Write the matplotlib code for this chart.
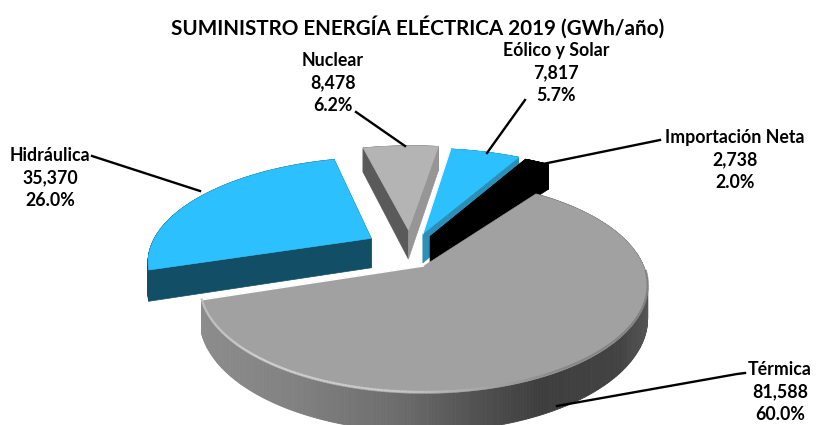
import numpy as np
import matplotlib
matplotlib.use("Agg")
import matplotlib.pyplot as plt

plt.rcParams['font.family'] = ['Lato', 'DejaVu Sans']

# Data, clockwise from the top of the pie
names = ["Nuclear", "Eólico y Solar", "Importación Neta", "Térmica", "Hidráulica"]
values = [8478, 7817, 2738, 81588, 35370]
title = "SUMINISTRO ENERGÍA ELÉCTRICA 2019 (GWh/año)"

# Look of each slice
top_colors = ["#b4b4b4", "#2cc0ff", "#000000", "#a1a1a1", "#2cc0ff"]
left_walls = ["#5a5a5a", None, "#000000", None, "#124f66"]
right_walls = ["#969696", "#2a90b8", "#000000", None, "#124f66"]
rim_colors = ["#808080", "#2a90b8", "#000000", None, "#124f66"]
explodes = [(-0.085, 0.37), (-0.015, 0.33), (0.02, 0.30), (-0.01, 0.0), (-0.26, 0.28)]
radii = [1.12, 1.12, 1.12, 0.99, 1.03]

label_pos = [(333, 83), (556, 73), (735, 160), (780, 392), (50, 178)]
leaders = [
    [(356, 112), (405, 146)],
    [(525, 100), (487, 153)],
    [(660, 140), (538, 165)],
    [(745, 373), (737, 374), (557, 406)],
    [(92, 156), (200, 191)],
]

# Projection of the pie plane
CX, CY = 426, 266
A, B, P = 222, 104, 0.194
DEPTH = 31
START = 54.0


def project(x, y):
    w = 1 + P * y
    return CX + A * x / w, CY - B * y / w


def depth_at(y):
    return DEPTH / (1 + P * y)


def rim_shade(x):
    return np.interp(x, [202, 300, 400, 480, 540, 620, 650],
                     [0x8c, 0x80, 0x6c, 0x50, 0x3e, 0x42, 0x58])


fig = plt.figure(figsize=(8.16, 4.25), dpi=100)
ax = fig.add_axes([0, 0, 1, 1])
ax.set_xlim(0, 816)
ax.set_ylim(425, 0)
ax.axis("off")

total = sum(values)
sweeps = [v / total * 360 for v in values]
starts = [START + sum(sweeps[:3]) - sum(sweeps[:i]) for i in range(5)]

draw_order = [0, 1, 2, 4, 3]
for i in draw_order:
    ang = np.radians(np.linspace(starts[i], starts[i] - sweeps[i], 300))
    ex, ey = explodes[i]
    rx = ex + radii[i] * np.cos(ang)
    ry = ey + radii[i] * np.sin(ang)
    sx, sy = project(rx, ry)
    px, py = project(ex, ey)
    d_rim = depth_at(ry)
    d_apex = depth_at(ey)

    # rim wall, in strips so it can shade
    for k in range(len(ang) - 1):
        if rim_colors[i] is None:
            g = rim_shade((sx[k] + sx[k + 1]) / 2) / 255
            c = (g, g, g)
        else:
            c = rim_colors[i]
        ax.fill([sx[k], sx[k + 1], sx[k + 1], sx[k]],
                [sy[k], sy[k + 1], sy[k + 1] + d_rim[k + 1], sy[k] + d_rim[k]],
                color=c, lw=0.6)

    # straight walls
    if left_walls[i]:
        ax.fill([px, sx[0], sx[0], px],
                [py, sy[0], sy[0] + d_rim[0], py + d_apex],
                color=left_walls[i], lw=0.5)
    if right_walls[i]:
        ax.fill([px, sx[-1], sx[-1], px],
                [py, sy[-1], sy[-1] + d_rim[-1], py + d_apex],
                color=right_walls[i], lw=0.5)

    # top face
    ax.fill(np.r_[px, sx], np.r_[py, sy], color=top_colors[i], lw=0.4)

    if i == 3:
        # white seam along the left edge and bevel on the front of the rim
        ax.plot([px, sx[-1]], [py, sy[-1]], color="white", lw=1.0, solid_capstyle="round")
        for k in range(len(ang) - 1):
            if ry[k] > -0.05:
                continue
            g = np.interp(sx[k], [202, 260, 400, 480, 560, 640],
                          [0xc0, 0xd0, 0xc8, 0xa8, 0x88, 0x80]) / 255
            ax.plot(sx[k:k + 2], sy[k:k + 2] - 1.5, color=(g, g, g), lw=1.6,
                    solid_capstyle="butt")
    if i == 1:
        ax.plot([px, sx[0]], [py, sy[0]], color="white", lw=0.8)

# Leader lines
for pts in leaders:
    ax.plot([p[0] for p in pts], [p[1] for p in pts], color="black", lw=1.7, zorder=5)

# Labels
for i, (x, y) in enumerate(label_pos):
    pct = values[i] / total * 100
    ax.text(x, y, f"{names[i]}\n{values[i]:,}\n{pct:.1f}%", ha="center", va="center",
            fontsize=12.8, fontweight="bold", color="black", linespacing=1.42, zorder=6)

ax.text(418, 27, title, ha="center", va="center", fontsize=14.9, fontweight="bold",
        color="black")

fig.savefig("out.png", dpi=100)
